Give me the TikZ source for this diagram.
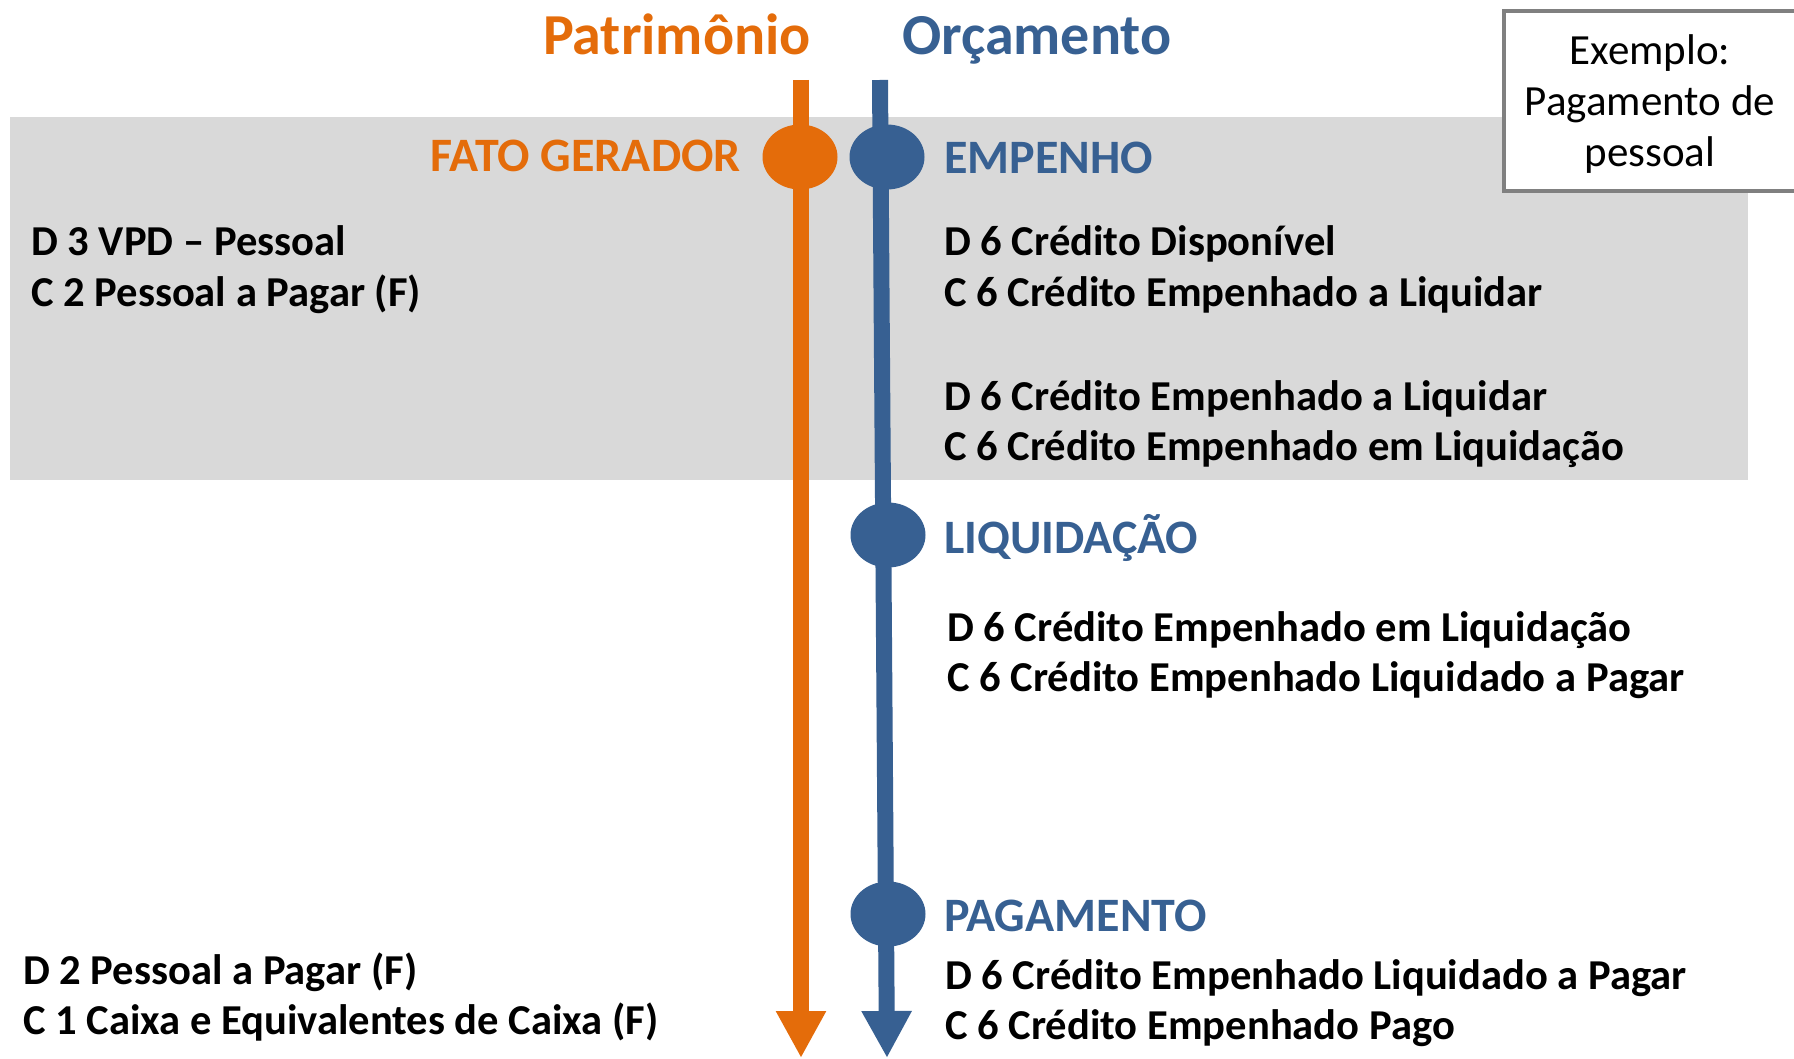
\documentclass[tikz,border=0pt]{standalone}
\usepackage{fontspec}
\setmainfont{Carlito}
\usetikzlibrary{arrows.meta,shapes.geometric}
\definecolor{orangeP}{HTML}{E46C0A}
\definecolor{blueO}{HTML}{376092}
\definecolor{bandgray}{HTML}{D9D9D9}
\definecolor{boxgray}{HTML}{808080}
\tikzset{
  title/.style={font=\fontsize{58}{66}\selectfont\bfseries, inner sep=0pt},
  stage/.style={font=\fontsize{48}{56}\selectfont\bfseries, inner sep=0pt},
  entry/.style={font=\fontsize{42.6}{51}\selectfont\bfseries, inner sep=0pt, anchor=base west},
  dot/.style={ellipse, minimum width=75pt, minimum height=65pt, inner sep=0pt},
  lineO/.style={orangeP, line width=16pt},
  lineB/.style={blueO, line width=16pt},
}
\begin{document}
\begin{tikzpicture}[x=1pt,y=-1pt]
\useasboundingbox (0,0) rectangle (1794,1059);
% gray band
\fill[bandgray] (10,117) rectangle (1748,480);
% example box
\node[draw=boxgray, line width=4pt, fill=white, minimum width=296pt, minimum height=180pt,
      inner sep=0pt] (ex) at (1652,101) {};
\node[align=center, font=\fontsize{43}{51}\selectfont, inner sep=0pt] (extxt) at (1650,104)
      {Exemplo:\\Pagamento de\\pessoal};
% titles
\node[title, orangeP, anchor=base east] (tP) at (811,55) {Patrimônio};
\node[title, blueO, anchor=base west] (tO) at (902,55) {Orçamento};
% coordinates for line ends
\coordinate (otop) at (801,80);
\coordinate (obot) at (801,1058);
\coordinate (btop) at (880,80);
\coordinate (bbot) at (887,1058);
% timelines
\draw[lineO, -{Triangle[width=47pt,length=47pt]}] (otop) -- (obot);
\draw[lineB, -{Triangle[width=47pt,length=47pt]}] (btop) -- (bbot);
% dots
\node[dot, fill=orangeP] (fg) at (800,157) {};
\node[dot, fill=blueO] (emp) at (887,157) {};
\node[dot, fill=blueO] (liq) at (888,535) {};
\node[dot, fill=blueO] (pag) at (888,914) {};
% stage labels
\node[stage, orangeP, anchor=base east] (lfg) at (741,172) {FATO GERADOR};
\node[stage, blueO, anchor=base west] (lemp) at (944,174) {EMPENHO};
\node[stage, blueO, anchor=base west] (lliq) at (944,553) {LIQUIDAÇÃO};
\node[stage, blueO, anchor=base west] (lpag) at (944,931) {PAGAMENTO};
% left entries
\node[entry] (l1) at (31,256) {D 3 VPD – Pessoal};
\node[entry] (l2) at (31,307) {C 2 Pessoal a Pagar (F)};
\node[entry] (l3) at (23,984) {D 2 Pessoal a Pagar (F)};
\node[entry] (l4) at (23,1034) {C 1 Caixa e Equivalentes de Caixa (F)};
% right entries
\node[entry] (r1) at (944,256) {D 6 Crédito Disponível};
\node[entry] (r2) at (944,307) {C 6 Crédito Empenhado a Liquidar};
\node[entry] (r3) at (944,410) {D 6 Crédito Empenhado a Liquidar};
\node[entry] (r4) at (944,460) {C 6 Crédito Empenhado em Liquidação};
\node[entry] (r5) at (947,641) {D 6 Crédito Empenhado em Liquidação};
\node[entry] (r6) at (947,691) {C 6 Crédito Empenhado Liquidado a Pagar};
\node[entry] (r7) at (945,989) {D 6 Crédito Empenhado Liquidado a Pagar};
\node[entry] (r8) at (945,1039) {C 6 Crédito Empenhado Pago};
\end{tikzpicture}
\end{document}
